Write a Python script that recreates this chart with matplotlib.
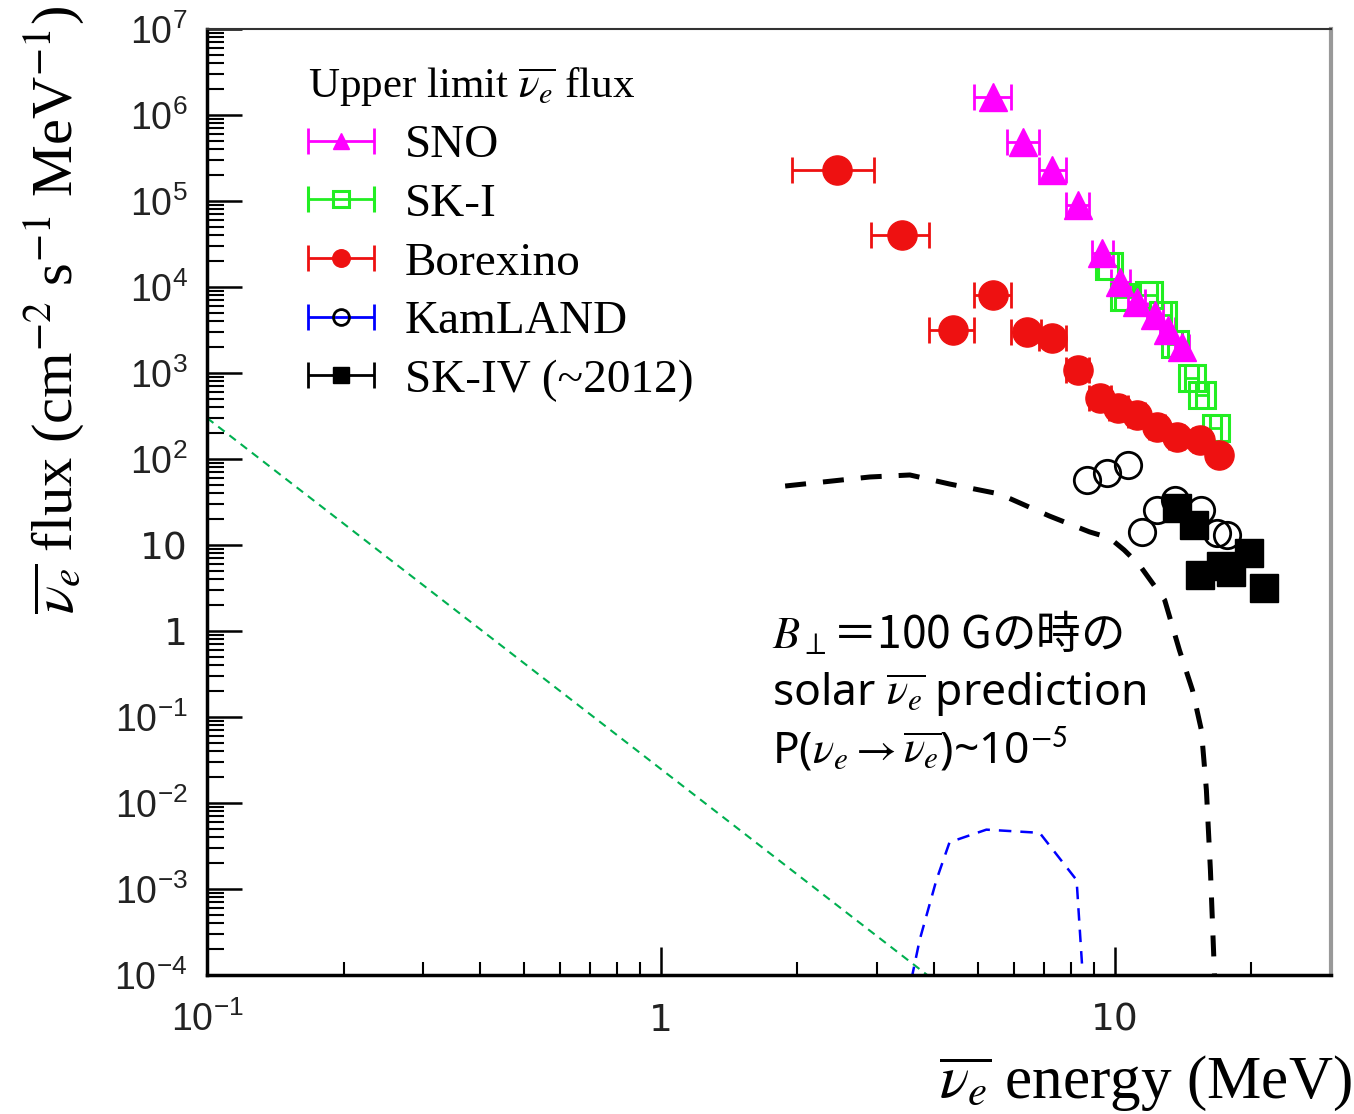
import numpy as np
import matplotlib
matplotlib.use("Agg")
import matplotlib.pyplot as plt
from matplotlib.ticker import LogLocator, NullFormatter
from matplotlib.container import ErrorbarContainer
from matplotlib.legend_handler import HandlerErrorbar

plt.rcParams['mathtext.fontset'] = 'custom'
plt.rcParams['mathtext.rm'] = 'Liberation Sans'
plt.rcParams['mathtext.it'] = 'Liberation Sans:italic'
plt.rcParams['mathtext.bf'] = 'Liberation Sans:bold'

# ---- data (energy in MeV, flux in cm^-2 s^-1 MeV^-1) ----
sno_e = [5.4, 6.3, 7.3, 8.3, 9.4, 10.3, 11.2, 12.3, 13.1, 14.1]
sno_f = [1.6e6, 4.9e5, 2.3e5, 9.0e4, 2.5e4, 1.15e4, 6.7e3, 4.7e3, 3.2e3, 2.0e3]

ski_e = [9.7, 10.5, 11.9, 12.8, 13.6, 14.8, 15.6, 16.7]
ski_f = [1.75e4, 7.6e3, 8.1e3, 4.7e3, 2.2e3, 880, 555, 230]

bx_e = [2.45, 3.4, 4.4, 5.4, 6.4, 7.3, 8.3, 9.3, 10.2, 11.2, 12.4, 13.7, 15.4, 17.0]
bx_f = [2.3e5, 4.0e4, 3.2e3, 8.1e3, 3.0e3, 2.55e3, 1.08e3, 510, 390, 325, 236, 180, 166, 111]

kl_e = [8.7, 9.65, 10.7, 11.5, 12.4, 13.6, 15.5, 16.8, 17.7]
kl_f = [57, 69, 85, 14.2, 25.5, 33.4, 25.5, 13.8, 13.1]

skiv_e = [13.7, 15.0, 15.4, 17.2, 18.1, 19.8, 21.4]
skiv_f = [26.9, 17.1, 4.5, 5.7, 4.85, 8.1, 3.2]

bin_half = 0.5

# solar prediction for B_perp = 100 G
pred_e = [1.88, 2.89, 3.54, 4.33, 5.58, 7.19, 8.81, 9.75, 10.5, 11.35, 12.9,
          13.9, 14.85, 15.54, 15.94, 16.27, 16.61, 16.7]
pred_f = [48.5, 61.8, 65.2, 51.2, 39.2, 21.7, 14.2, 12.1, 8.75, 5.85, 2.29,
          0.60, 0.206, 0.0706, 0.0142, 1.66e-3, 1.0e-4, 5e-5]

# reactor (blue) and geo (green) curves
react_e = [3.57, 3.72, 4.05, 4.33, 5.22, 6.84, 8.25, 8.5]
react_f = [9.0e-5, 2.55e-4, 1.27e-3, 3.5e-3, 4.9e-3, 4.5e-3, 1.27e-3, 1.1e-4]

geo_e = [0.1, 4.0]
geo_f = [300, 8.7e-5]

xtick_vals = [0.1, 1, 10]
xtick_labels = ['$10^{-1}$', '1', '10']
ytick_vals = [1e-4, 1e-3, 1e-2, 1e-1, 1, 10, 1e2, 1e3, 1e4, 1e5, 1e6, 1e7]
ytick_labels = ['$10^{-4}$', '$10^{-3}$', '$10^{-2}$', '$10^{-1}$', '1', '10',
                '$10^{2}$', '$10^{3}$', '$10^{4}$', '$10^{5}$', '$10^{6}$', '$10^{7}$']

# ---- figure ----
W, H = 1354, 1114
fig = plt.figure(figsize=(W / 100, H / 100), dpi=100)
ax = fig.add_axes([207 / W, 139 / H, (1331 - 207) / W, (975 - 29) / H])
ax.set_xscale('log')
ax.set_yscale('log')
ax.set_xlim(0.1, 30)
ax.set_ylim(1e-4, 1e7)

# curves
ax.plot(geo_e, geo_f, color='#00b050', lw=1.5, ls=(0, (3.9, 2.9)))
ax.plot(react_e, react_f, color='#0000ff', lw=1.8, ls=(0, (5.0, 3.6)))
ax.plot(pred_e, pred_f, color='black', lw=3.6, ls=(0, (4.2, 3.4)))

# data points
eb_kw = dict(xerr=bin_half, capsize=9.5, elinewidth=2, capthick=2, ls='none')
h_ski = ax.errorbar(ski_e, ski_f, fmt='s', color='#22ee22', mfc='none', mec='#22ee22',
                    mew=2.2, ms=19, **eb_kw)
h_sno = ax.errorbar(sno_e, sno_f, fmt='^', color='#ff00ff', ms=20, **eb_kw)
h_bx = ax.errorbar(bx_e, bx_f, fmt='o', color='#ee1111', ms=21, **eb_kw)
# KamLAND: open circles, bin bars hidden inside the markers
ax.plot(kl_e, kl_f, 'o', mfc='none', mec='black', mew=2, ms=19)
h_kl = ax.errorbar([np.nan], [np.nan], fmt='o', color='#0000ff', mfc='none', mec='black',
                   mew=2, ms=19, **eb_kw)
h_skiv = ax.errorbar(skiv_e, skiv_f, fmt='s', color='black', ms=20, **eb_kw)

# axes styling
for side in ['left', 'bottom']:
    ax.spines[side].set_linewidth(2.5)
ax.spines['top'].set_linewidth(1.5)
ax.spines['top'].set_color('#333333')
ax.spines['right'].set_linewidth(3)
ax.spines['right'].set_color('#999999')

ax.tick_params(axis='y', which='major', direction='in', length=25, width=1.8,
               labelsize=27, labelcolor='#222222', pad=14, right=False)
ax.tick_params(axis='y', which='minor', direction='in', length=12, width=1.5, right=False)
ax.tick_params(axis='x', which='major', direction='in', length=20, width=1.8,
               labelsize=27, labelcolor='#222222', pad=40, top=False)
ax.tick_params(axis='x', which='minor', direction='in', length=9.5, width=1.5, top=False)

ax.set_xticks(xtick_vals, xtick_labels, va='baseline')
ax.set_yticks(ytick_vals, ytick_labels)
ax.xaxis.set_minor_locator(LogLocator(base=10, subs=np.arange(2, 10), numticks=20))
ax.yaxis.set_minor_locator(LogLocator(base=10, subs=np.arange(2, 10), numticks=30))
ax.xaxis.set_minor_formatter(NullFormatter())
ax.yaxis.set_minor_formatter(NullFormatter())

# legend
leg = ax.legend([h_sno, h_ski, h_bx, h_kl, h_skiv],
                ['SNO', 'SK-I', 'Borexino', 'KamLAND', 'SK-IV (~2012)'],
                loc='upper left', bbox_to_anchor=(0.09, 0.962), frameon=False,
                prop={'family': 'Liberation Serif', 'size': 34},
                title=r'Upper limit $\overline{\nu_e}$ flux',
                title_fontproperties={'family': 'Liberation Serif', 'size': 31},
                alignment='left', markerscale=0.6, handlelength=1.4,
                handletextpad=0.65, labelspacing=0.33, borderpad=0, borderaxespad=0,
                handler_map={ErrorbarContainer: HandlerErrorbar(xerr_size=0.7)})
leg.get_title().set_math_fontfamily('stix')

# annotation
ann_kw = dict(size=32, va='baseline', ha='left', math_fontfamily='stix')
fig.text(772 / W, 1 - 648 / H, r'$B_{\perp}$＝100 Gの時の', family='Noto Sans CJK JP', **ann_kw)
fig.text(772 / W, 1 - 705 / H, r'solar $\overline{\nu_e}$ prediction', family='Noto Sans', **ann_kw)
fig.text(772 / W, 1 - 763 / H,
         r'P($\nu_e \rightarrow \overline{\nu_e}$)~10$^{\mathsf{-5}}$', family='Noto Sans', **ann_kw)

# axis titles
fig.text(55 / W, 1 - 310 / H, r'$\overline{\nu_e}$ flux (cm$^{\mathrm{-2}}$ s$^{\mathrm{-1}}$ MeV$^{\mathrm{-1}}$)',
         rotation=90, ha='center', va='center', family='Liberation Serif', size=42,
         math_fontfamily='stix')
fig.text(1352 / W, 1 - 1098 / H, r'$\overline{\nu_e}$ energy (MeV)',
         ha='right', va='baseline', family='Liberation Serif', size=44,
         math_fontfamily='stix')

fig.savefig('out.png', dpi=100)
